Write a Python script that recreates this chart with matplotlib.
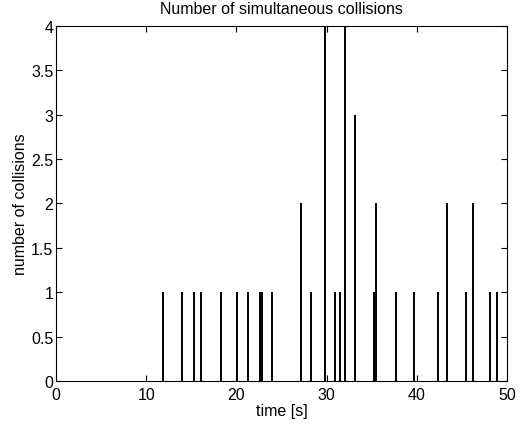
import numpy as np
import matplotlib.pyplot as plt
from matplotlib.ticker import FormatStrFormatter

plt.rcParams['font.family'] = ['Liberation Sans', 'DejaVu Sans']

# collision times [s] and number of simultaneous collisions at each
times = [11.9, 14.0, 15.3, 16.1, 18.3, 20.1, 21.3, 22.6, 22.8, 24.0,
         27.2, 28.3, 29.8, 30.9, 31.5, 32.0, 33.1, 35.3, 35.5,
         37.7, 39.7, 42.35, 43.3, 45.45, 46.2, 48.1, 48.85]
counts = [1, 1, 1, 1, 1, 1, 1, 1, 1, 1,
          2, 1, 4, 1, 1, 4, 3, 1, 2,
          1, 1, 1, 2, 1, 2, 1, 1]

x_ticks = [0, 10, 20, 30, 40, 50]
y_ticks = np.arange(0, 4.01, 0.5)

fig = plt.figure(figsize=(5.27, 4.35), dpi=100)
ax = fig.add_axes([0.1063, 0.1218, 0.8557, 0.8162])

ax.vlines(times, 0, counts, colors='black', linewidth=1.4)

ax.set_xlim(0, 50)
ax.set_ylim(0, 4)
ax.set_xticks(x_ticks)
ax.set_yticks(y_ticks)
ax.yaxis.set_major_formatter(FormatStrFormatter('%g'))
ax.tick_params(direction='in', top=True, right=True, length=4,
               labelsize=11.5)
ax.tick_params(axis='x', pad=4)
ax.tick_params(axis='y', pad=2)
for s in ax.spines.values():
    s.set_linewidth(0.8)

ax.set_title('Number of simultaneous collisions', fontsize=11.5, pad=9)
ax.set_xlabel('time [s]', fontsize=11.5, labelpad=1)
ax.set_ylabel('number of collisions', fontsize=11.5, labelpad=2)

fig.savefig('out.png', dpi=100)
